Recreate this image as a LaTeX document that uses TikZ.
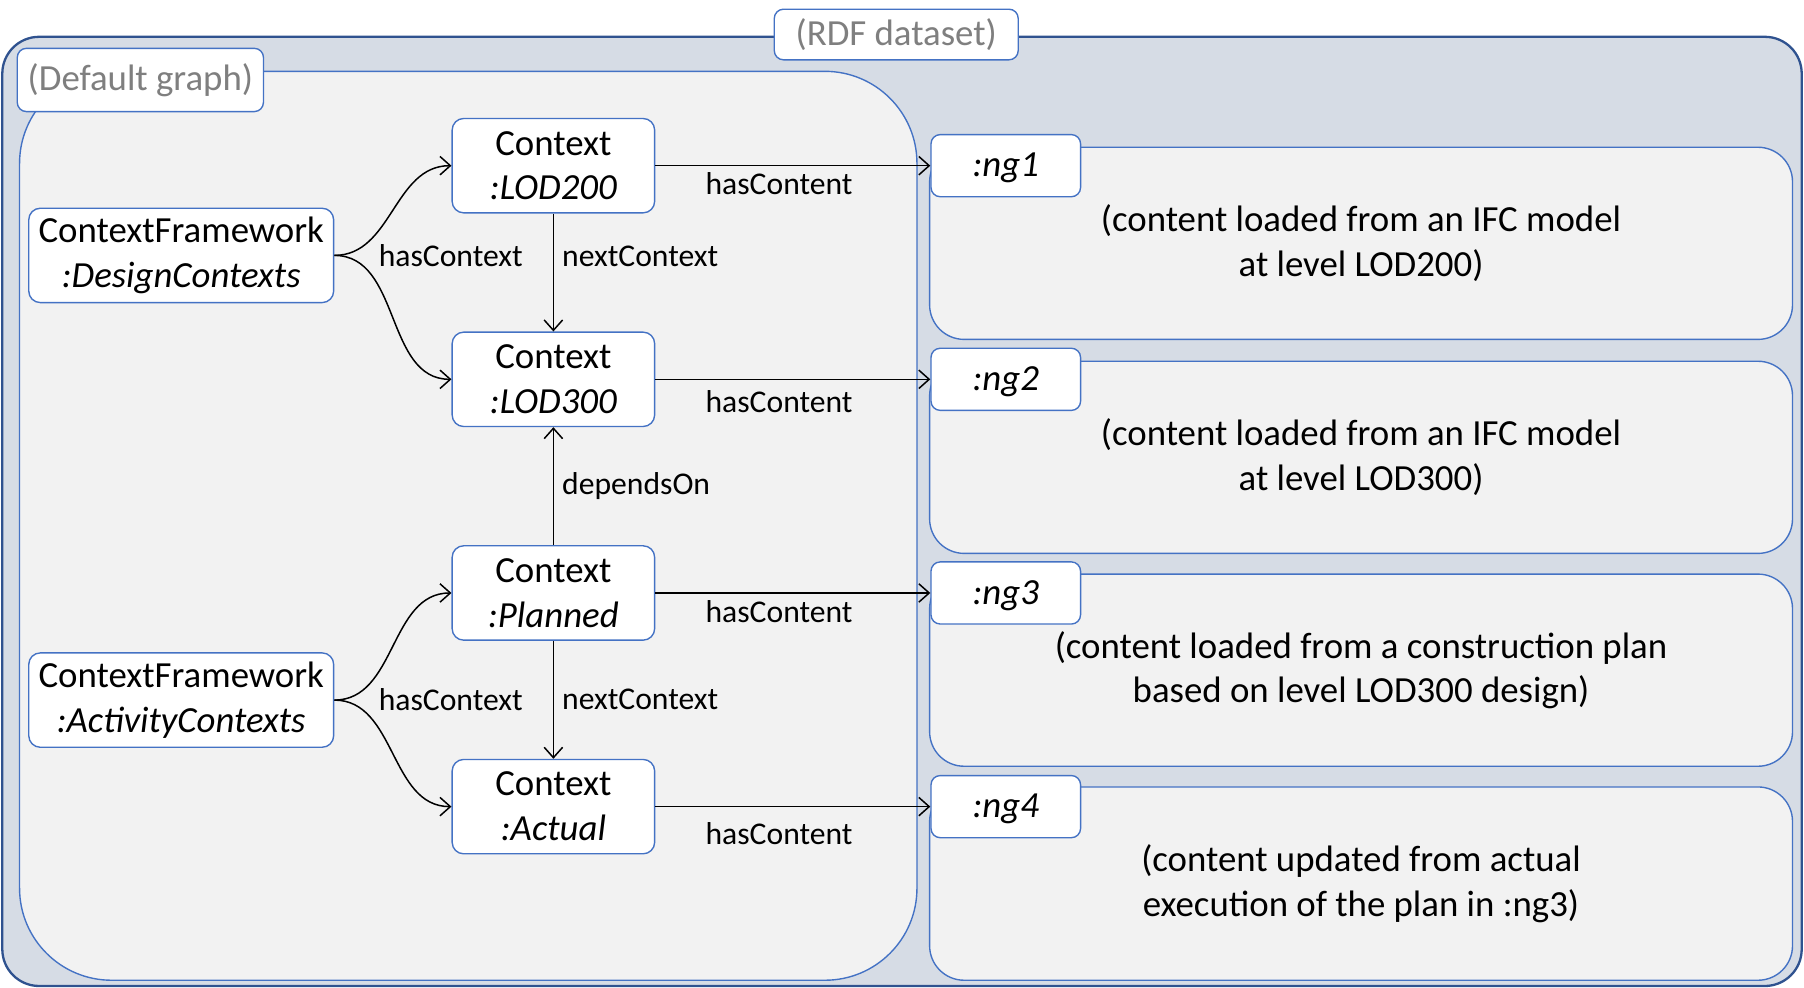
\documentclass[tikz,border=0pt]{standalone}
\usepackage{fontspec}
\setmainfont{Carlito}
\usetikzlibrary{arrows.meta, positioning}

\definecolor{dsfill}{HTML}{D6DCE5}
\definecolor{dsline}{HTML}{2F528F}
\definecolor{boxline}{HTML}{4472C4}
\definecolor{graphfill}{HTML}{F2F2F2}
\definecolor{tagtext}{HTML}{7F7F7F}

\begin{document}
\begin{tikzpicture}[->, >={Straight Barb[length=9pt,width=16pt]}, x=1pt, y=-1pt, node distance=185.7pt, line width=1.3pt, font=\fontsize{32}{39}\selectfont]

%====Definizione stili================================================
	\tikzstyle{dataset}=[fill=dsfill, draw=dsline, line width=2pt, rounded corners=32pt, inner sep=0pt]
	\tikzstyle{graphbox}=[fill=graphfill, draw=boxline, line width=1.2pt, inner sep=0pt, align=center]
	\tikzstyle{tag}=[fill=white, draw=boxline, line width=1.2pt, rounded corners=8pt, inner sep=0pt, text=tagtext]
	\tikzstyle{res}=[fill=white, draw=boxline, line width=1.2pt, rounded corners=10pt, inner sep=0pt, align=center, minimum width=176pt, minimum height=82pt]
	\tikzstyle{ngtag}=[fill=white, draw=boxline, line width=1.2pt, rounded corners=8pt, inner sep=0pt, minimum width=130pt, minimum height=54pt, text height=26pt, text depth=6.5pt, font=\fontsize{32}{39}\selectfont\itshape]
	\tikzstyle{lbl}=[font=\fontsize{27.5}{33}\selectfont, inner sep=3pt]

	\useasboundingbox (0,0) rectangle (1568,858);

%====Contenitori=====================================================
	\node[dataset, minimum width=1564pt, minimum height=825pt] (ds) at (784,444.5) {};
	\node[tag, minimum width=212pt, minimum height=44pt] (dslabel) at (779,30) {(RDF dataset)};
	\node[graphbox, rounded corners=80pt, minimum width=780pt, minimum height=790pt] (dg) at (407,457) {};
	\node[tag, minimum width=214pt, minimum height=55pt] (dglabel) at (122,69.5) {(Default graph)};

	\node[graphbox, rounded corners=30pt, minimum width=750pt, minimum height=167pt] (g1) at (1183,211.5) {(content loaded from an IFC model\\at level LOD200)};
	\node[graphbox, rounded corners=30pt, minimum width=750pt, minimum height=167pt] (g2) at (1183,397.5) {(content loaded from an IFC model\\at level LOD300)};
	\node[graphbox, rounded corners=30pt, minimum width=750pt, minimum height=167pt] (g3) at (1183,582.5) {(content loaded from a construction plan\\based on level LOD300 design)};
	\node[graphbox, rounded corners=30pt, minimum width=750pt, minimum height=168pt] (g4) at (1183,768) {(content updated from actual\\execution of the plan in :ng3)};

%====Risorse e posizione==============================================
	\node[res, minimum width=265pt]	(design)	at (157.5,222)		{ContextFramework\\\textit{:DesignContexts}};
	\node[res, minimum width=265pt]	(activity)	at (157.5,608.5)	{ContextFramework\\\textit{:ActivityContexts}};
	\node[res]	(lod200)	at (481,144)		{Context\\\textit{:LOD200}};
	\node[res]	(lod300)	[below of=lod200]	{Context\\\textit{:LOD300}};
	\node[res]	(planned)	[below of=lod300]	{Context\\\textit{:Planned}};
	\node[res]	(actual)	[below of=planned]	{Context\\\textit{:Actual}};

	\node[ngtag]	(ng1)	[right=239pt of lod200]		{:ng1};
	\node[ngtag]	(ng2)	[right=239pt of lod300]		{:ng2};
	\node[ngtag]	(ng3)	[right=239pt of planned]	{:ng3};
	\node[ngtag]	(ng4)	[right=239pt of actual]		{:ng4};

%====Collegamenti=====================================================
	\draw (design.east) to[out=0, in=180] (lod200.west);
	\draw (design.east) to[out=0, in=180] (lod300.west);
	\draw (activity.east) to[out=0, in=180] (planned.west);
	\draw (activity.east) to[out=0, in=180] (actual.west);
	\node[lbl, right=35pt of design.east]	(hc1)	{hasContext};
	\node[lbl, right=35pt of activity.east]	(hc2)	{hasContext};

	\draw (lod200) -- node[lbl, right=4pt, pos=0.36] {nextContext} (lod300);
	\draw (planned) -- node[lbl, right=4pt] {dependsOn} (lod300);
	\draw (planned) -- node[lbl, right=4pt] {nextContext} (actual);

	\draw (lod200) -- node[lbl, below=2pt, pos=0.45] {hasContent} (ng1);
	\draw (lod300) -- node[lbl, below=6pt, pos=0.45] {hasContent} (ng2);
	\draw (planned) -- node[lbl, below=3pt, pos=0.45] {hasContent} (ng3);
	\draw (actual) -- node[lbl, below=10pt, pos=0.45] {hasContent} (ng4);
\end{tikzpicture}
\end{document}
